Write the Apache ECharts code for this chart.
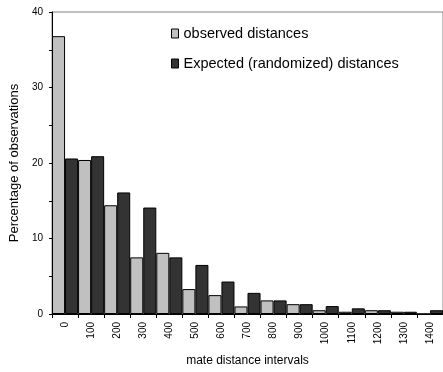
<!DOCTYPE html>
<html>
<head>
<meta charset="utf-8">
<script src="https://cdn.jsdelivr.net/npm/echarts@6/dist/echarts.min.js"></script>
<style>
  html, body { margin: 0; padding: 0; background: #fff; }
  #chart { width: 443px; height: 372px; }
</style>
</head>
<body>
<div id="chart"></div>
<script>
// Mate distance intervals (category labels along the x axis)
const intervals = ['0', '100', '200', '300', '400', '500', '600', '700',
                   '800', '900', '1000', '1100', '1200', '1300', '1400'];

// Percentage of observations per interval
const observed = [36.8, 20.4, 14.4, 7.5, 8.1, 3.3, 2.5, 1.0,
                  1.8, 1.3, 0.5, 0.3, 0.5, 0.3, 0];
const expected = [20.6, 20.9, 16.1, 14.1, 7.5, 6.5, 4.3, 2.8,
                  1.8, 1.3, 1.05, 0.75, 0.5, 0.3, 0.5];

const seriesNames = ['observed distances', 'Expected (randomized) distances'];

const FONT = '"Liberation Sans", Arial, sans-serif';
const chart = echarts.init(document.getElementById('chart'), null, { renderer: 'canvas' });

chart.setOption({
  animation: false,
  backgroundColor: '#ffffff',
  textStyle: { fontFamily: FONT, color: '#000' },
  grid: {
    left: 51, top: 12, right: -1, bottom: 58,
    show: true, borderColor: '#808080', borderWidth: 1,
    containLabel: false
  },
  legend: {
    orient: 'vertical',
    left: 171, top: 21,
    padding: [5, 0, 5, 0],
    itemWidth: 7, itemHeight: 9, itemGap: 15,
    icon: 'rect',
    itemStyle: { borderColor: '#000', borderWidth: 1 },
    textStyle: { fontFamily: FONT, fontSize: 14.5, color: '#000' },
    data: seriesNames
  },
  xAxis: {
    type: 'category',
    data: intervals,
    name: 'mate distance intervals',
    nameLocation: 'middle',
    nameGap: 41,
    nameTextStyle: { fontFamily: FONT, fontSize: 12, color: '#000' },
    axisLine: { lineStyle: { color: '#000', width: 1 } },
    axisTick: { show: true, length: 4, lineStyle: { color: '#000' } },
    axisLabel: { rotate: 90, margin: 8, fontFamily: FONT, fontSize: 10, color: '#000' },
    splitLine: { show: false }
  },
  yAxis: {
    type: 'value',
    min: 0, max: 40, interval: 10,
    name: 'Percentage of observations',
    nameLocation: 'middle',
    nameGap: 26,
    nameTextStyle: { fontFamily: FONT, fontSize: 13, color: '#000' },
    axisLine: { show: true, lineStyle: { color: '#000', width: 1 } },
    axisTick: { show: true, length: 3, lineStyle: { color: '#000' } },
    minorTick: { show: true, splitNumber: 2, length: 3, lineStyle: { color: '#000' } },
    axisLabel: { margin: 9, fontFamily: FONT, fontSize: 10, color: '#000' },
    splitLine: { show: false }
  },
  series: [
    {
      name: seriesNames[0],
      type: 'bar',
      data: observed,
      barWidth: '50%',
      barGap: '0%',
      barCategoryGap: '0%',
      itemStyle: { color: '#c0c0c0', borderColor: '#000', borderWidth: 1 }
    },
    {
      name: seriesNames[1],
      type: 'bar',
      data: expected,
      barWidth: '50%',
      barGap: '0%',
      barCategoryGap: '0%',
      itemStyle: { color: '#333333', borderColor: '#000', borderWidth: 1 }
    }
  ]
});
</script>
</body>
</html>
